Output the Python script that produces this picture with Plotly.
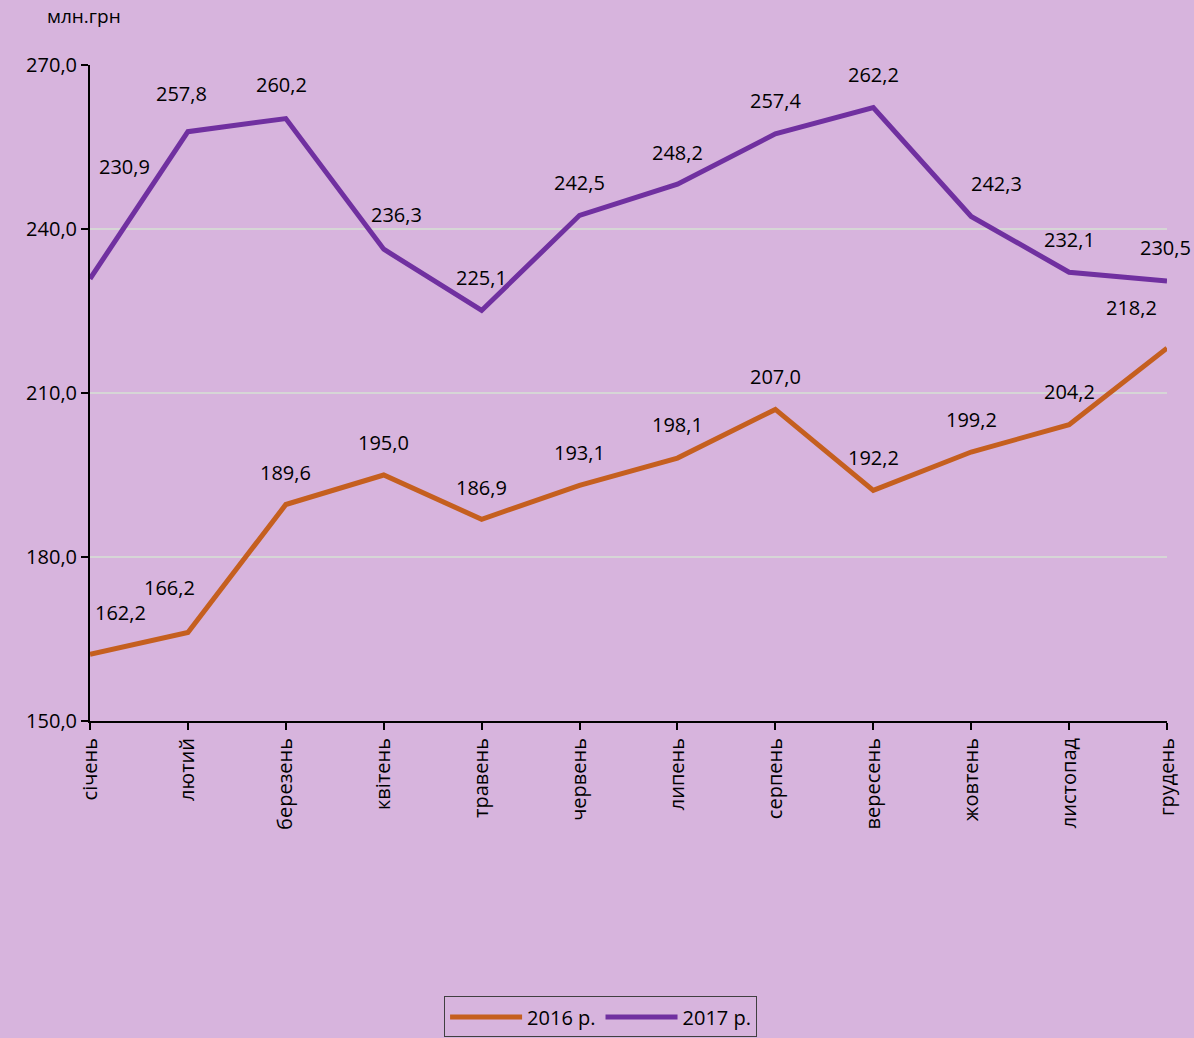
import plotly.graph_objects as go

months = ["січень", "лютий", "березень", "квітень", "травень", "червень",
          "липень", "серпень", "вересень", "жовтень", "листопад", "грудень"]
v2016 = [162.2, 166.2, 189.6, 195.0, 186.9, 193.1, 198.1, 207.0, 192.2, 199.2, 204.2, 218.2]
v2017 = [230.9, 257.8, 260.2, 236.3, 225.1, 242.5, 248.2, 257.4, 262.2, 242.3, 232.1, 230.5]
yticks = [150, 180, 210, 240, 270]

# label pixel offsets (dx, dy) relative to points
off2016 = [(30, -42), (-18, -45), (0, -32), (0, -33), (0, -32), (0, -33),
           (0, -34), (0, -33), (0, -33), (0, -33), (0, -33), (-36, -41)]
off2017 = [(34, -112), (-6, -38), (-4, -34), (13, -35), (0, -33), (0, -33),
           (0, -32), (0, -33), (0, -33), (25, -33), (0, -33), (-2, -33)]

BG = "#D7B4DD"
FONT = "Open Sans, Liberation Sans, sans-serif"
xs = list(range(len(months)))

fig = go.Figure()
fig.add_trace(go.Scatter(x=xs, y=v2016, mode="lines", name="2016 р.",
                         line=dict(color="#C55F1F", width=5), cliponaxis=False))
fig.add_trace(go.Scatter(x=xs, y=v2017, mode="lines", name="2017 р.",
                         line=dict(color="#7030A0", width=5), cliponaxis=False))

for vals, offs in ((v2016, off2016), (v2017, off2017)):
    for i, (v, (dx, dy)) in enumerate(zip(vals, offs)):
        fig.add_annotation(x=i, y=v, xref="x", yref="y",
                           text=f"{v:.1f}".replace(".", ","), showarrow=False,
                           xshift=dx, yshift=-dy, font=dict(size=20, color="#000000", family=FONT))

fig.add_annotation(x=-0.006, y=1.075, xref="paper", yref="paper", text="млн.грн",
                   showarrow=False, xanchor="center", yanchor="middle",
                   font=dict(size=19, color="#000000", family=FONT))

fig.update_layout(
    width=1194, height=1038,
    paper_bgcolor=BG, plot_bgcolor=BG,
    margin=dict(l=90, r=27, t=65, b=317, autoexpand=False),
    separators=", ",
    font=dict(family=FONT, size=20, color="#000000"),
    showlegend=True,
    legend=dict(orientation="h", xref="container", yref="container",
                x=0.503, xanchor="center", y=0.04, yanchor="top",
                bordercolor="#404040", borderwidth=1, bgcolor=BG,
                font=dict(size=20, family=FONT), itemwidth=72, tracegroupgap=0),
)
fig.update_xaxes(range=[0, 11], tickvals=xs, ticktext=months, tickangle=-90,
                 showgrid=False, showline=True, linecolor="#000000", linewidth=2,
                 ticks="outside", ticklen=7, tickwidth=2, tickcolor="#000000",
                 tickfont=dict(size=20, family=FONT), zeroline=False, automargin=False)
fig.update_yaxes(range=[150, 270], tickvals=yticks, tickformat=".1f",
                 showgrid=True, gridcolor="#D6D6D6", gridwidth=2,
                 showline=True, linecolor="#000000", linewidth=2,
                 ticks="outside", ticklen=7, tickwidth=2, tickcolor="#000000",
                 tickfont=dict(size=20, family=FONT), zeroline=False, automargin=False)

fig.write_html("out.html", config={"displayModeBar": False},
               post_script="document.body.style.margin='0';document.body.style.background='" + BG + "';")
